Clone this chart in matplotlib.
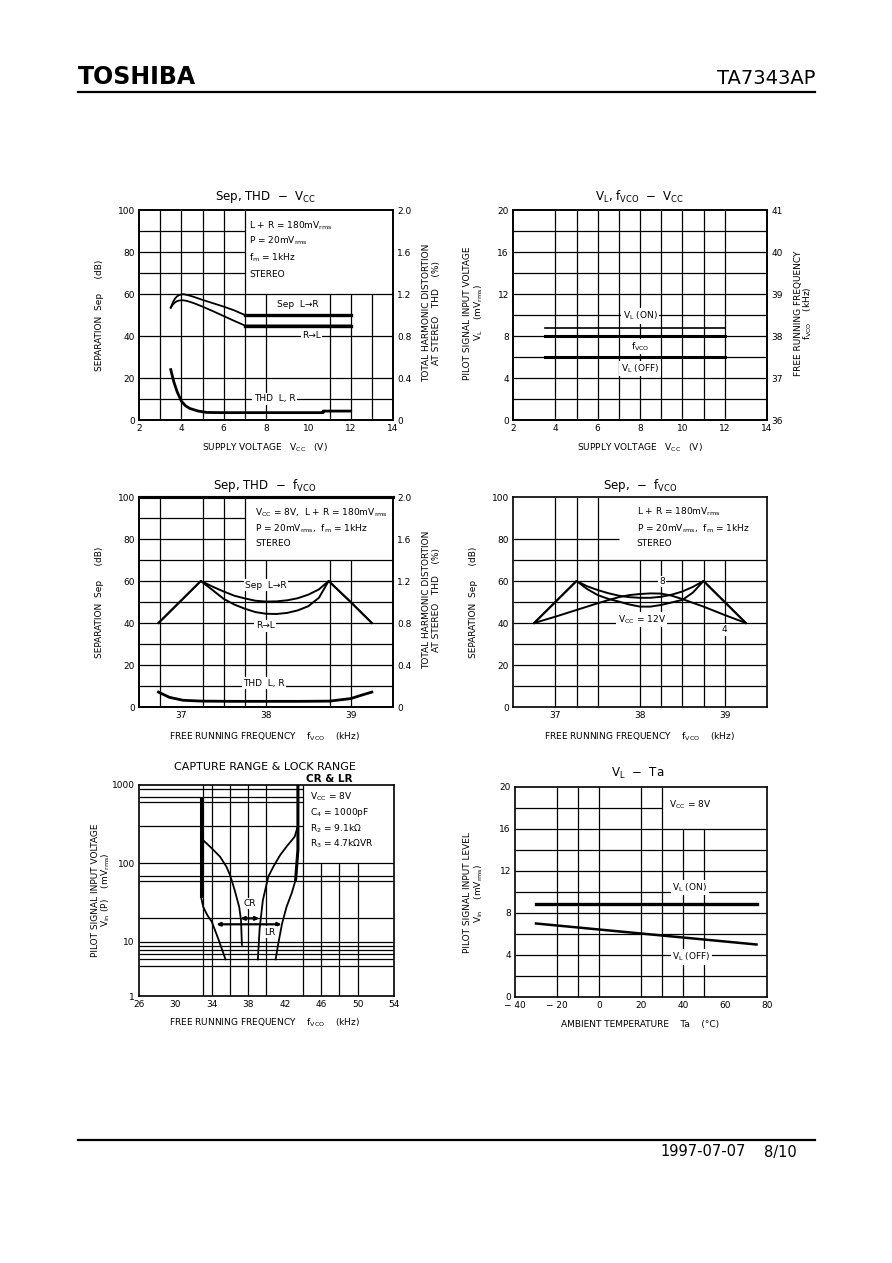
import matplotlib
matplotlib.use('Agg')
import matplotlib.pyplot as plt
from matplotlib.lines import Line2D

plt.rcParams['font.family'] = ['DejaVu Sans']
plt.rcParams['mathtext.default'] = 'regular'

# ---------------- data ----------------
# Chart 1: Sep, THD - Vcc
vcc1 = [3.5, 3.6, 3.7, 3.8, 3.9, 4.0, 4.1, 4.3, 4.6, 5.0, 5.5, 6.0, 6.5, 7.0, 8.0, 9.0, 10.0, 11.0, 12.0]
sep_lr1 = [53.5, 56.0, 57.8, 58.9, 59.5, 59.8, 59.9, 59.5, 58.6, 57.2, 55.6, 54.0, 52.2, 50.0, 50, 50, 50, 50, 50]
sep_rl1 = [53.5, 55.0, 56.0, 56.6, 56.9, 57.0, 57.0, 56.6, 55.6, 54.0, 51.8, 49.5, 47.2, 45.0, 45, 45, 45, 45, 45]
vcc1_thd = [3.5, 3.65, 3.8, 4.0, 4.2, 4.4, 4.8, 5.2, 6.0, 8.0, 10.7, 10.7, 12.0]
thd1 = [0.48, 0.36, 0.27, 0.18, 0.135, 0.11, 0.085, 0.072, 0.07, 0.07, 0.07, 0.085, 0.085]

# Chart 2: VL, fVCO - Vcc
vcc2 = [3.5, 12.0]
vl_on2 = [8.8, 8.8]
fvco2 = [38.0, 38.0]
vl_off2 = [6.0, 6.0]

# Chart 3: Sep, THD - fVCO
f3 = [36.73, 37.23, 37.375, 37.5, 37.625, 37.75, 37.875, 38.0, 38.125, 38.25,
      38.375, 38.5, 38.625, 38.74, 39.0, 39.25]
sep_lr3 = [40, 60, 57.2, 55.0, 53.0, 51.7, 50.6, 50.2, 50.3, 50.8, 51.8, 53.5, 56.0, 60, 50, 40]
sep_rl3 = [40, 60, 55.5, 51.5, 48.8, 46.8, 45.2, 44.4, 44.3, 44.8, 46.0, 48.0, 52.0, 60, 50, 40]
f3_thd = [36.73, 36.86, 37.02, 37.24, 37.6, 38.0, 38.4, 38.75, 39.0, 39.15, 39.25]
thd3 = [0.142, 0.092, 0.064, 0.056, 0.054, 0.054, 0.054, 0.056, 0.08, 0.118, 0.142]

# Chart 4: Sep - fVCO (Vcc = 4, 8, 12 V)
f4 = [36.75, 37.0, 37.25, 37.375, 37.5, 37.625, 37.75, 37.875, 38.0, 38.125, 38.25,
      38.375, 38.5, 38.625, 38.75, 39.0, 39.25]
sep_8v = [40, 50, 60, 57.5, 55.7, 54.2, 53.0, 52.3, 52.0, 52.0, 52.5, 53.5, 55.0, 57.2, 60, 50, 40]
sep_12v = [40, 50, 60, 56.2, 53.3, 51.5, 50.2, 48.8, 47.8, 47.8, 48.6, 49.8, 51.0, 54.5, 60, 50, 40]
sep_4v = [40, 43.0, 46.2, 47.8, 49.4, 50.9, 52.3, 53.3, 53.8, 54.1, 54.0, 53.0, 51.4, 49.6, 47.8, 43.8, 40]

# Chart 5: capture range & lock range
lr_left_f = [32.8, 32.8, 33.05, 33.5, 34.0, 34.7, 35.5]
lr_left_v = [660, 38, 28, 22, 18, 11, 6]
cr_left_f = [33.0, 33.8, 34.9, 35.6, 36.0, 36.5, 37.0, 37.2, 37.3]
cr_left_v = [200, 164, 122, 91, 71, 46, 28, 19, 9.2]
cr_right_f = [39.05, 39.25, 39.6, 40.2, 40.75, 41.5, 42.2, 43.1, 43.4]
cr_right_v = [6, 15, 34, 68, 91, 128, 164, 220, 290]
lr_right_f = [41.0, 41.3, 41.7, 42.2, 42.77, 43.2, 43.45, 43.45]
lr_right_v = [6, 9.6, 17, 28, 42, 62, 150, 1000]
cr_arrow = (37.15, 39.2, 20)
lr_arrow = (34.5, 41.65, 16.8)

# Chart 6: VL - Ta
ta6 = [-30, 75]
vl_on6 = [8.9, 8.9]
vl_off6 = [7.0, 5.0]

# ---------------- figure ----------------
W, H = 892, 1263
fig = plt.figure(figsize=(W / 100, H / 100), dpi=100)


def rect(l, t, r, b):
    return [l / W, 1 - b / H, (r - l) / W, (b - t) / H]


def ft(x, y, s, **kw):
    kw.setdefault('ha', 'center')
    kw.setdefault('va', 'center')
    kw.setdefault('fontsize', 6.5)
    fig.text(x / W, 1 - y / H, s, **kw)


FS = 6.5
WB = dict(facecolor='white', edgecolor='none', pad=1.0)


def style(ax):
    for s in ax.spines.values():
        s.set_linewidth(1.2)
    ax.tick_params(length=0, labelsize=FS, pad=3)


def vg(ax, xs, y0, y1):
    ax.vlines(xs, y0, y1, colors='k', lw=0.9, zorder=1)


def hg(ax, ys, x0, x1):
    ax.hlines(ys, x0, x1, colors='k', lw=0.9, zorder=1)


def fig_line(x0, x1, y, lw):
    fig.add_artist(Line2D([x0 / W, x1 / W], [1 - y / H, 1 - y / H],
                          transform=fig.transFigure, color='k', lw=lw))


# header / footer
ft(78, 77, 'TOSHIBA', ha='left', fontsize=17, weight='heavy')
ft(815, 79, 'TA7343AP', ha='right', fontsize=14)
fig_line(78, 815, 92, 1.6)
fig_line(78, 815, 1140, 1.6)
ft(746, 1152, '1997-07-07', ha='right', fontsize=10.5)
ft(797, 1152, '8/10', ha='right', fontsize=10.5)

# ---------- Chart 1 ----------
ax = fig.add_axes(rect(139, 210, 393, 420))
ax.set_xlim(2, 14)
ax.set_ylim(0, 100)
ax.set_xticks(range(2, 15, 2))
ax.set_yticks(range(0, 101, 20))
style(ax)
vg(ax, [3, 4, 5, 6, 7], 0, 100)
vg(ax, [8, 11, 12, 13], 0, 60)
hg(ax, [10, 20, 40, 60], 2, 14)
hg(ax, [70, 80, 90], 2, 7)
ax2 = ax.twinx()
ax2.set_ylim(0, 2.0)
ax2.set_yticks([0, 0.4, 0.8, 1.2, 1.6, 2.0])
ax2.set_yticklabels(['0', '0.4', '0.8', '1.2', '1.6', '2.0'])
style(ax2)
ax2.plot(vcc1, [v / 50 for v in sep_lr1], color='k', lw=1.3)
ax2.plot(vcc1, [v / 50 for v in sep_rl1], color='k', lw=1.3)
ax2.plot(vcc1[13:], [v / 50 for v in sep_lr1[13:]], color='k', lw=2.4)
ax2.plot(vcc1[13:], [v / 50 for v in sep_rl1[13:]], color='k', lw=2.4)
ax2.plot(vcc1_thd, thd1, color='k', lw=2.0)
ax2.text(9.5, 55 / 50, 'Sep  L→R', fontsize=FS, ha='center', va='center', bbox=WB)
ax2.text(10.15, 40 / 50, 'R→L', fontsize=FS, ha='center', va='center', bbox=WB)
ax2.text(8.4, 10 / 50, 'THD  L, R', fontsize=FS, ha='center', va='center', bbox=WB)
for yy, s in zip([92.5, 85.5, 77.3, 69.4],
                 ['L + R = 180mV$_{rms}$', 'P = 20mV$_{rms}$', 'f$_m$ = 1kHz', 'STEREO']):
    ax2.text(7.2, yy / 50, s, fontsize=FS, ha='left', va='center')
ft(265, 197, 'Sep, THD  −  V$_{CC}$', fontsize=8.5)
ft(265, 448, 'SUPPLY VOLTAGE   V$_{CC}$   (V)')
ft(100, 315, 'SEPARATION  Sep     (dB)', rotation=90)
ft(427, 313, 'TOTAL HARMONIC DISTORTION', rotation=90)
ft(437, 313, 'AT STEREO   THD    (%)', rotation=90)

# ---------- Chart 2 ----------
ax = fig.add_axes(rect(513, 210, 767, 420))
ax.set_xlim(2, 14)
ax.set_ylim(0, 20)
ax.set_xticks(range(2, 15, 2))
ax.set_yticks(range(0, 21, 4))
style(ax)
vg(ax, range(4, 13), 0, 20)
hg(ax, range(2, 19, 2), 2, 14)
ax2 = ax.twinx()
ax2.set_ylim(36, 41)
ax2.set_yticks(range(36, 42))
style(ax2)
ax.plot(vcc2, vl_on2, color='k', lw=1.2)
ax.plot(vcc2, vl_off2, color='k', lw=2.2)
ax2.plot(vcc2, fvco2, color='k', lw=2.2)
ax2.text(8, 36 + 9.9 / 4, 'V$_L$ (ON)', fontsize=FS, ha='center', va='center', bbox=WB)
ax2.text(8, 36 + 7.0 / 4, 'f$_{VCO}$', fontsize=FS, ha='center', va='center', bbox=WB)
ax2.text(8, 36 + 4.9 / 4, 'V$_L$ (OFF)', fontsize=FS, ha='center', va='center', bbox=WB)
ft(640, 197, 'V$_L$, f$_{VCO}$  −  V$_{CC}$', fontsize=8.5)
ft(640, 448, 'SUPPLY VOLTAGE   V$_{CC}$   (V)')
ft(468, 313, 'PILOT SIGNAL INPUT VOLTAGE', rotation=90)
ft(479, 313, 'V$_L$    (mV$_{rms}$)', rotation=90)
ft(798, 313, 'FREE RUNNING FREQUENCY', rotation=90)
ft(808, 313, 'f$_{VCO}$    (kHz)', rotation=90)

# ---------- Chart 3 ----------
ax = fig.add_axes(rect(139, 497, 393, 707))
ax.set_xlim(36.5, 39.5)
ax.set_ylim(0, 100)
ax.set_xticks([37, 38, 39])
ax.set_yticks(range(0, 101, 20))
style(ax)
ax.spines['top'].set_linewidth(2.2)
vg(ax, [36.75, 37.25, 37.5, 37.75], 0, 100)
vg(ax, [38.0, 38.75, 39.0], 0, 70)
hg(ax, range(10, 71, 10), 36.5, 39.5)
hg(ax, [80, 90], 36.5, 37.75)
ax2 = ax.twinx()
ax2.set_ylim(0, 2.0)
ax2.set_yticks([0, 0.4, 0.8, 1.2, 1.6, 2.0])
ax2.set_yticklabels(['0', '0.4', '0.8', '1.2', '1.6', '2.0'])
style(ax2)
ax2.spines['top'].set_linewidth(2.2)
ax2.plot(f3, [v / 50 for v in sep_lr3], color='k', lw=1.4)
ax2.plot(f3, [v / 50 for v in sep_rl3], color='k', lw=1.4)
ax2.plot(f3_thd, thd3, color='k', lw=2.0)
ax2.text(38.0, 58 / 50, 'Sep  L→R', fontsize=FS, ha='center', va='center', bbox=WB)
ax2.text(37.99, 38.7 / 50, 'R→L', fontsize=FS, ha='center', va='center', bbox=WB)
ax2.text(37.98, 11.4 / 50, 'THD  L, R', fontsize=FS, ha='center', va='center', bbox=WB)
for yy, s in zip([92.7, 85.1, 78.0],
                 ['V$_{CC}$ = 8V,  L + R = 180mV$_{rms}$', 'P = 20mV$_{rms}$,  f$_m$ = 1kHz', 'STEREO']):
    ax2.text(37.87, yy / 50, s, fontsize=FS, ha='left', va='center')
ft(265, 485, 'Sep, THD  −  f$_{VCO}$', fontsize=8.5)
ft(265, 737, 'FREE RUNNING FREQUENCY    f$_{VCO}$    (kHz)')
ft(100, 602, 'SEPARATION  Sep     (dB)', rotation=90)
ft(427, 600, 'TOTAL HARMONIC DISTORTION', rotation=90)
ft(437, 600, 'AT STEREO   THD    (%)', rotation=90)

# ---------- Chart 4 ----------
ax = fig.add_axes(rect(513, 497, 767, 707))
ax.set_xlim(36.5, 39.5)
ax.set_ylim(0, 100)
ax.set_xticks([37, 38, 39])
ax.set_yticks(range(0, 101, 20))
style(ax)
vg(ax, [37.0, 37.25, 37.5], 0, 100)
vg(ax, [38.0, 38.25, 38.5, 38.75, 39.0], 0, 70)
hg(ax, range(10, 71, 10), 36.5, 39.5)
hg(ax, [80], 36.5, 37.75)
ax.plot(f4, sep_8v, color='k', lw=1.4, zorder=2)
ax.plot(f4, sep_12v, color='k', lw=1.4, zorder=2)
ax.plot(f4, sep_4v, color='k', lw=1.4, zorder=2)
ax.text(38.26, 59.8, '8', fontsize=FS, ha='center', va='center', bbox=WB, zorder=4)
ax.text(38.02, 41.5, 'V$_{CC}$ = 12V', fontsize=FS, ha='center', va='center', bbox=WB, zorder=4)
ax.text(39.0, 36.7, '4', fontsize=FS, ha='center', va='center', bbox=WB, zorder=4)
for yy, s in zip([93, 85, 78],
                 ['L + R = 180mV$_{rms}$', 'P = 20mV$_{rms}$,  f$_m$ = 1kHz', 'STEREO']):
    ax.text(37.96, yy, s, fontsize=FS, ha='left', va='center')
ft(640, 486, 'Sep,  −  f$_{VCO}$', fontsize=8.5)
ft(640, 737, 'FREE RUNNING FREQUENCY    f$_{VCO}$    (kHz)')
ft(473, 602, 'SEPARATION  Sep     (dB)', rotation=90)

# ---------- Chart 5 ----------
ax = fig.add_axes(rect(139, 785, 394, 996))
ax.set_yscale('log')
ax.set_xlim(26, 54)
ax.set_ylim(2.05, 1000)
ax.set_xticks(range(26, 55, 4))
ax.set_yticks([2.05, 10, 100, 1000])
ax.set_yticklabels(['1', '10', '100', '1000'])
ax.minorticks_off()
style(ax)
vg(ax, [33, 34, 36, 38, 40, 44], 2.05, 1000)
vg(ax, [46, 48, 50], 2.05, 100)
hg(ax, [5, 6, 7, 8, 9, 10, 20, 60, 70, 100], 26, 54)
hg(ax, [300, 600, 700, 900], 26, 44)
ax.plot(lr_left_f[:2], lr_left_v[:2], color='k', lw=2.2, zorder=2)
ax.plot(lr_left_f[1:], lr_left_v[1:], color='k', lw=1.3, zorder=2)
ax.plot(cr_left_f, cr_left_v, color='k', lw=1.3, zorder=2)
ax.plot(cr_right_f, cr_right_v, color='k', lw=1.3, zorder=2)
ax.plot(lr_right_f[:-2], lr_right_v[:-2], color='k', lw=1.3, zorder=2)
ax.plot(lr_right_f[-3:], lr_right_v[-3:], color='k', lw=2.2, zorder=2)
for x0, x1, yv in [cr_arrow, lr_arrow]:
    ax.annotate('', xy=(x1, yv), xytext=(x0, yv),
                arrowprops=dict(arrowstyle='<|-|>', color='k', lw=1.6,
                                mutation_scale=5, shrinkA=0, shrinkB=0), zorder=3)
ax.text(38.2, 31, 'CR', fontsize=FS, ha='center', va='center', bbox=WB, zorder=4)
ax.text(40.4, 13.3, 'LR', fontsize=FS, ha='center', va='center', bbox=WB, zorder=4)
for yy, s in zip([709, 449, 280, 176],
                 ['V$_{CC}$ = 8V', 'C$_4$ = 1000pF', 'R$_2$ = 9.1kΩ', 'R$_3$ = 4.7kΩVR']):
    ax.text(44.8, yy, s, fontsize=FS, ha='left', va='center')
ft(265, 767, 'CAPTURE RANGE & LOCK RANGE', fontsize=8)
ft(329, 779, 'CR & LR', fontsize=7.5, weight='bold')
ft(265, 1023, 'FREE RUNNING FREQUENCY    f$_{VCO}$    (kHz)')
ft(95, 890, 'PILOT SIGNAL INPUT VOLTAGE', rotation=90)
ft(106, 890, 'V$_{in}$ (P)    (mV$_{rms}$)', rotation=90)

# ---------- Chart 6 ----------
ax = fig.add_axes(rect(515, 787, 767, 997))
ax.set_xlim(-40, 80)
ax.set_ylim(0, 20)
ax.set_xticks(range(-40, 81, 20))
ax.set_xticklabels(['− 40', '− 20', '0', '20', '40', '60', '80'])
ax.set_yticks(range(0, 21, 4))
style(ax)
vg(ax, [-20, -10, 0, 20, 30], 0, 20)
vg(ax, [40, 50], 0, 16)
hg(ax, range(2, 17, 2), -40, 80)
hg(ax, [18], -40, 30)
ax.plot(ta6, vl_on6, color='k', lw=2.4, zorder=2)
ax.plot(ta6, vl_off6, color='k', lw=1.8, zorder=2)
ax.text(43.3, 10.4, 'V$_L$ (ON)', fontsize=FS, ha='center', va='center', bbox=WB, zorder=4)
ax.text(44.1, 3.8, 'V$_L$ (OFF)', fontsize=FS, ha='center', va='center', bbox=WB, zorder=4)
ax.text(43.3, 18.3, 'V$_{CC}$ = 8V', fontsize=FS, ha='center', va='center', zorder=4)
ft(638, 773, 'V$_L$  −  Ta', fontsize=8.5)
ft(640, 1024, 'AMBIENT TEMPERATURE    Ta    (°C)')
ft(468, 893, 'PILOT SIGNAL INPUT LEVEL', rotation=90)
ft(479, 893, 'V$_{in}$    (mV$_{rms}$)', rotation=90)

fig.savefig('out.png', dpi=100)
